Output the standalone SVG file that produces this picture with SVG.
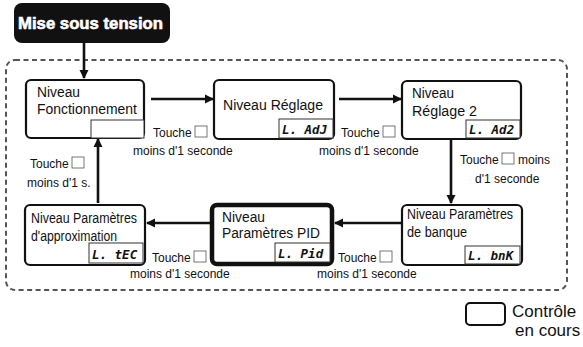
<svg xmlns="http://www.w3.org/2000/svg" width="583" height="347" viewBox="0 0 583 347">
<style>
.node{fill:#fff;stroke:#111;stroke-width:2.2}
.thick{fill:#fff;stroke:#111;stroke-width:4.5}
.disp{fill:#fff;stroke:#333;stroke-width:1}
.t{font-family:"Liberation Sans",Arial,sans-serif;font-size:14px;fill:#111}
.lbl{font-family:"Liberation Sans",Arial,sans-serif;font-size:12px;fill:#111}
.seg{font-family:"DejaVu Sans Mono",monospace;font-size:12.5px;font-style:italic;font-weight:bold;fill:#111}
.sq{fill:#fff;stroke:#555;stroke-width:0.8}
.conn{stroke:#111;stroke-width:2.6;fill:none}
</style>
<defs>
<marker id="ah" markerWidth="10" markerHeight="10" refX="8" refY="5" orient="auto" markerUnits="userSpaceOnUse">
<path d="M0,0.5 L9,5 L0,9.5 Z" fill="#111"/>
</marker>
</defs>
<rect x="6" y="60" width="561" height="230" rx="9" fill="none" stroke="#555" stroke-width="2" stroke-dasharray="5,3.5"/>
<g id="mise">
<rect x="14" y="3" width="156" height="40" rx="8" fill="#111"/>
<text x="18" y="29" textLength="145" lengthAdjust="spacingAndGlyphs" font-family="Liberation Sans,Arial,sans-serif" font-size="16.5" font-weight="bold" fill="#fff" stroke="#fff" stroke-width="0.6">Mise sous tension</text>
</g>
<g id="connectors">
<line class="conn" x1="84" y1="43" x2="84" y2="78" marker-end="url(#ah)"/>
<line class="conn" x1="151" y1="99" x2="213" y2="99" marker-end="url(#ah)"/>
<line class="conn" x1="339" y1="99" x2="401" y2="99" marker-end="url(#ah)"/>
<line class="conn" x1="451" y1="140" x2="451" y2="203" marker-end="url(#ah)"/>
<line class="conn" x1="402" y1="223" x2="335" y2="223" marker-end="url(#ah)"/>
<line class="conn" x1="211" y1="223" x2="147" y2="223" marker-end="url(#ah)"/>
<line class="conn" x1="98" y1="203" x2="98" y2="139" marker-end="url(#ah)"/>
</g>
<g id="labels">
<text class="lbl" x="153" y="137">Touche</text><rect class="sq" x="195" y="126" width="12" height="11"/>
<text class="lbl" x="133" y="155">moins d'1 seconde</text>
<text class="lbl" x="341" y="137">Touche</text><rect class="sq" x="383" y="126" width="12" height="11"/>
<text class="lbl" x="319" y="155">moins d'1 seconde</text>
<text class="lbl" x="460" y="164">Touche</text><rect class="sq" x="502" y="153" width="12" height="11"/>
<text class="lbl" x="518" y="164">moins</text>
<text class="lbl" x="475" y="183">d'1 seconde</text>
<text class="lbl" x="338" y="262">Touche</text><rect class="sq" x="380" y="251" width="12" height="11"/>
<text class="lbl" x="317" y="278">moins d'1 seconde</text>
<text class="lbl" x="152" y="262">Touche</text><rect class="sq" x="194" y="251" width="12" height="11"/>
<text class="lbl" x="130" y="278">moins d'1 seconde</text>
<text class="lbl" x="30" y="168">Touche</text><rect class="sq" x="72" y="157" width="12" height="11"/>
<text class="lbl" x="27" y="187">moins d'1 s.</text>
</g>
<g id="n1">
<rect class="node" x="26" y="80" width="118" height="58" rx="5"/>
<rect class="disp" x="91" y="120" width="53" height="18"/>
<text class="t" x="37" y="97" textLength="43" lengthAdjust="spacingAndGlyphs">Niveau</text>
<text class="t" x="37" y="114" textLength="100" lengthAdjust="spacingAndGlyphs">Fonctionnement</text>
</g>
<g id="n2">
<rect class="node" x="214" y="80" width="120" height="59" rx="5"/>
<rect class="disp" x="279" y="119" width="54" height="19"/>
<text class="t" x="223" y="110" textLength="100" lengthAdjust="spacingAndGlyphs">Niveau Réglage</text>
<text class="seg" x="282" y="134">L. AdJ</text>
</g>
<g id="n3">
<rect class="node" x="402" y="81" width="119" height="58" rx="5"/>
<rect class="disp" x="466" y="120" width="54" height="18"/>
<text class="t" x="412" y="98" textLength="42" lengthAdjust="spacingAndGlyphs">Niveau</text>
<text class="t" x="412" y="116" textLength="65" lengthAdjust="spacingAndGlyphs">Réglage 2</text>
<text class="seg" x="469" y="134">L. Ad2</text>
</g>
<g id="n4">
<rect class="node" x="402" y="205" width="120" height="60" rx="5"/>
<rect class="disp" x="465" y="246" width="55" height="18"/>
<text class="t" x="407" y="219" textLength="106" lengthAdjust="spacingAndGlyphs">Niveau Paramètres</text>
<text class="t" x="407" y="237" textLength="60" lengthAdjust="spacingAndGlyphs">de banque</text>
<text class="seg" x="468" y="260">L. bnK</text>
</g>
<g id="n5">
<rect class="thick" x="212" y="205" width="120" height="59" rx="5"/>
<rect class="disp" x="275" y="243" width="55" height="19"/>
<text class="t" x="222" y="222" textLength="43" lengthAdjust="spacingAndGlyphs">Niveau</text>
<text class="t" x="222" y="238" textLength="98" lengthAdjust="spacingAndGlyphs">Paramètres PID</text>
<text class="seg" x="278" y="258">L. Pid</text>
</g>
<g id="n6">
<rect class="node" x="25" y="205" width="120" height="60" rx="5"/>
<rect class="disp" x="89" y="243" width="54" height="20"/>
<text class="t" x="31" y="223" textLength="106" lengthAdjust="spacingAndGlyphs">Niveau Paramètres</text>
<text class="t" x="31" y="241" textLength="86" lengthAdjust="spacingAndGlyphs">d'approximation</text>
<text class="seg" x="92" y="259">L. tEC</text>
</g>
<g id="legend">
<rect x="466" y="303" width="39" height="22" rx="4" fill="#fff" stroke="#111" stroke-width="2"/>
<text x="512" y="317" font-family="Liberation Sans,Arial,sans-serif" font-size="17" fill="#111">Contrôle</text>
<text x="515" y="336" font-family="Liberation Sans,Arial,sans-serif" font-size="17" fill="#111">en cours</text>
</g>
</svg>
